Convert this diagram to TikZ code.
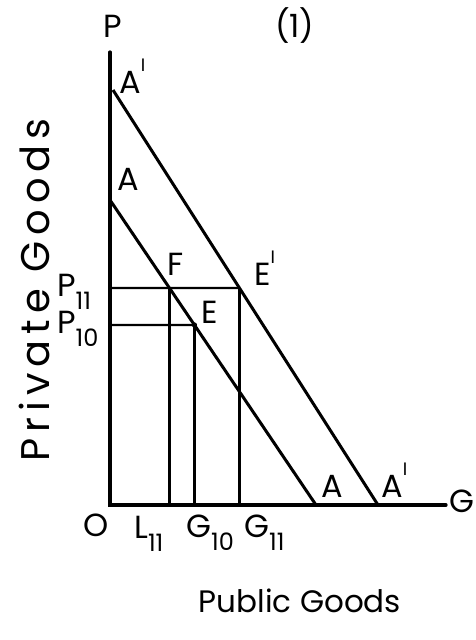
\documentclass[tikz,border=0pt]{standalone}
\usepackage{fontspec}
\setmainfont{Poppins}
\newcommand{\lo}[1]{\raisebox{-13pt}{\fontsize{24}{24}\selectfont#1}}
\newcommand{\hi}[1]{\raisebox{22pt}{\fontsize{18}{18}\selectfont#1}}

\begin{document}
\begin{tikzpicture}[x=1pt, y=-1pt,
    every node/.style={inner sep=0pt, anchor=base west, font=\fontsize{32}{32}\selectfont},
    axis/.style={line width=3.2pt, line cap=round},
    budget/.style={line width=3pt},
    guide/.style={line width=2.2pt}]
    \useasboundingbox (0,0) rectangle (475,640);
    % axes and the two budget lines
    \coordinate (O) at (110,505);
    \coordinate (P) at (110,52);
    \coordinate (G) at (446,505);
    \coordinate (A0) at (110,200);
    \coordinate (A1) at (316,505);
    \coordinate (B0) at (113,90);
    \coordinate (B1) at (378,505);
    \coordinate (P11) at (110,288);
    \coordinate (P10) at (110,325);
    \coordinate (F) at (intersection of A0--A1 and P11--400,288);
    \coordinate (E) at (intersection of A0--A1 and P10--400,325);
    \coordinate (E1) at (intersection of B0--B1 and P11--400,288);
        \draw[axis] (P) -- (O) -- (G);
        \draw[budget] (B0) -- (B1);
        \draw[budget] (A0) -- (A1);
        \draw[guide] (P11) -- (E1);
        \draw[guide] (P10) -- (E);
        \draw[guide] (F) -- (F |- O);
        \draw[line width=3pt] (E) -- (E |- O);
        \draw[line width=3.6pt] (E1) -- (E1 |- O);
        \draw[line width=1.2pt] (E) circle (2pt);
    % labels
    \node (lP) at (103,37) {P};
    \node (lone) at (275,37) {(1)};
    \node (lB0) at (119,93) {A\hi{I}};
    \node (lA0) at (117,190) {A};
    \node (lF) at (167,275) {F};
    \node (lE1) at (254,285) {E\hi{I}};
    \node (lE) at (201,323) {E};
    \node (lP11) at (57,296) {P\lo{11}};
    \node (lP10) at (57,333) {P\lo{10}};
    \node (lO) at (83,536) {O};
    \node (lL11) at (134,538) {L\lo{11}};
    \node (lG10) at (186,537) {G\lo{10}};
    \node (lG11) at (244,537) {G\lo{11}};
    \node (lA1) at (321,497) {A};
    \node (lB1) at (381,497) {A\hi{I}};
    \node (lG) at (449,512) {G};
    \node[anchor=base, rotate=90, font=\fontsize{40}{40}\selectfont\addfontfeature{LetterSpace=15}] (ylab) at (49,290) {Private Goods};
    \node[anchor=base, font=\fontsize{31}{31}\selectfont] (xlab) at (300,612) {Public Goods};
\end{tikzpicture}
\end{document}
